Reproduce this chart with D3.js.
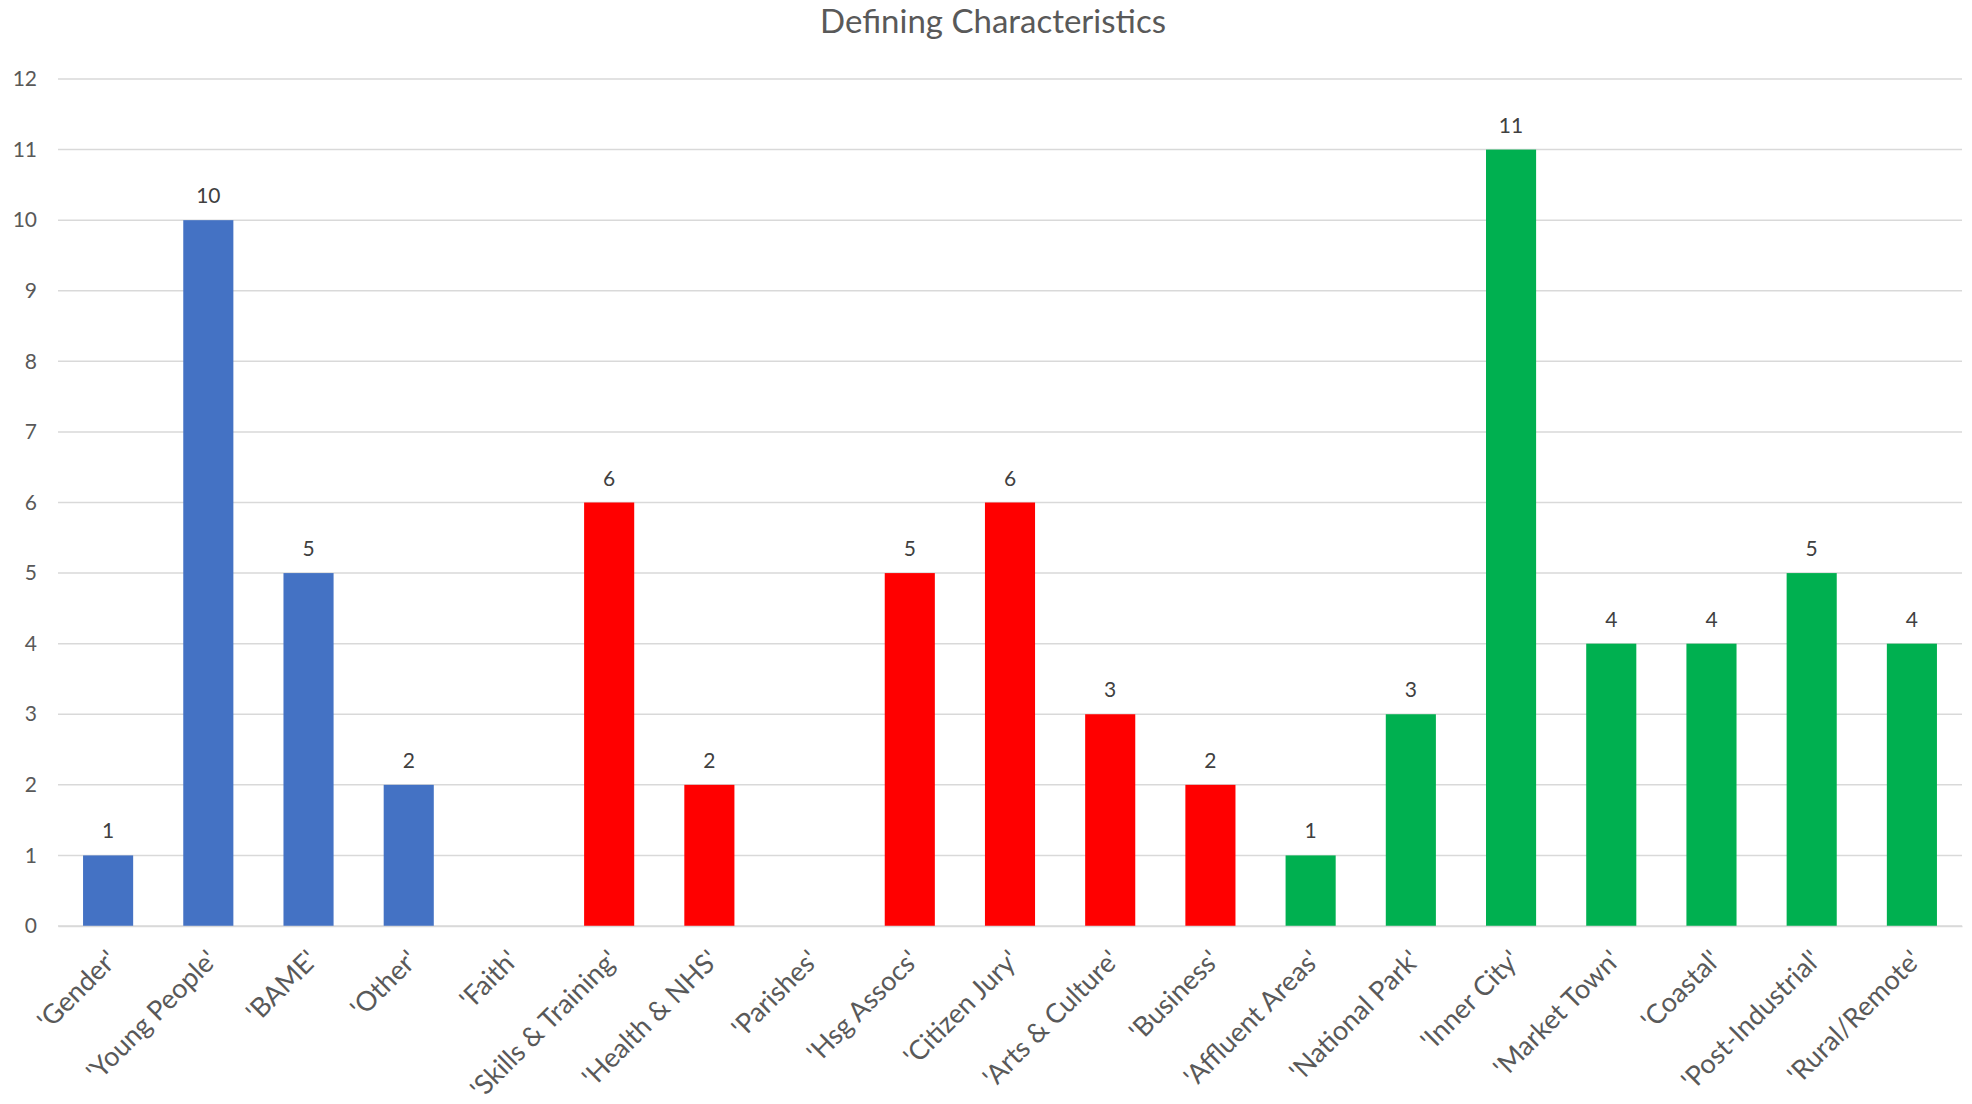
<!DOCTYPE html>
<html><head><meta charset="utf-8">
<script src="https://cdn.jsdelivr.net/npm/d3@7"></script>
<style>body{margin:0;background:#fff;}svg{display:block;}</style>
</head><body>
<script>
const categories = ["'Gender'","'Young People'","'BAME'","'Other'","'Faith'","'Skills & Training'","'Health & NHS'","'Parishes'","'Hsg Assocs'","'Citizen Jury'","'Arts & Culture'","'Business'","'Affluent Areas'","'National Park'","'Inner City'","'Market Town'","'Coastal'","'Post-Industrial'","'Rural/Remote'"];
const values = [1,10,5,2,null,6,2,null,5,6,3,2,1,3,11,4,4,5,4];
const groups = ["blue","blue","blue","blue","blue","red","red","red","red","red","red","red","green","green","green","green","green","green","green"];
const yTicks = [0,1,2,3,4,5,6,7,8,9,10,11,12];
const title = "Defining Characteristics";
const groupColors = {blue:"#4472C4", red:"#FF0000", green:"#00B050"};

const W = 1972, H = 1104;
const font = "Lato, 'Open Sans', sans-serif";
const svg = d3.select("body").append("svg").attr("width", W).attr("height", H);

const x = d3.scaleBand().domain(categories).range([58, 1962]).paddingInner(0.5).paddingOuter(0.25);
const y = d3.scaleLinear().domain([0, 12]).range([926, 79]);

svg.append("text").attr("x", 993).attr("y", 33).attr("text-anchor","middle")
  .attr("font-family", font).attr("font-size", 33).attr("fill","#595959").text(title);

// gridlines
svg.append("g").selectAll("line").data(yTicks).join("line")
  .attr("x1", 58).attr("x2", 1962)
  .attr("y1", d => y(d)).attr("y2", d => y(d))
  .attr("stroke", "#D9D9D9").attr("stroke-width", 1.5);

// y axis labels
const yAxis = d3.axisLeft(y).tickValues(yTicks).tickSize(0).tickPadding(0);
const gy = svg.append("g").attr("transform","translate(37,0)").call(yAxis);
gy.select(".domain").remove();
gy.selectAll("text").attr("font-family", font).attr("font-size", 21).attr("fill","#595959");

const data = categories.map((c,i)=>({c, v: values[i], g: groups[i]}));

svg.append("g").selectAll("rect").data(data.filter(d=>d.v!=null)).join("rect")
  .attr("x", d => x(d.c)).attr("width", x.bandwidth())
  .attr("y", d => y(d.v)).attr("height", d => y(0) - y(d.v))
  .attr("fill", d => groupColors[d.g]);

svg.append("g").selectAll("text").data(data.filter(d=>d.v!=null)).join("text")
  .attr("x", d => x(d.c) + x.bandwidth()/2).attr("y", d => y(d.v) - 17)
  .attr("text-anchor","middle").attr("font-family", font).attr("font-size", 21).attr("fill","#404040")
  .text(d => d.v);

// x labels
const xAxis = d3.axisBottom(x).tickSize(0).tickPadding(0);
const gx = svg.append("g").attr("transform","translate(0,926)").call(xAxis);
gx.select(".domain").attr("stroke","#D9D9D9").attr("stroke-width",1.5);
gx.selectAll(".tick text")
  .attr("font-family", font).attr("font-size", 27).attr("fill","#595959")
  .attr("text-anchor","end")
  .attr("dy", "0.35em").attr("y", 0)
  .attr("transform", "translate(4,29) rotate(-45)");
</script>
</body></html>
